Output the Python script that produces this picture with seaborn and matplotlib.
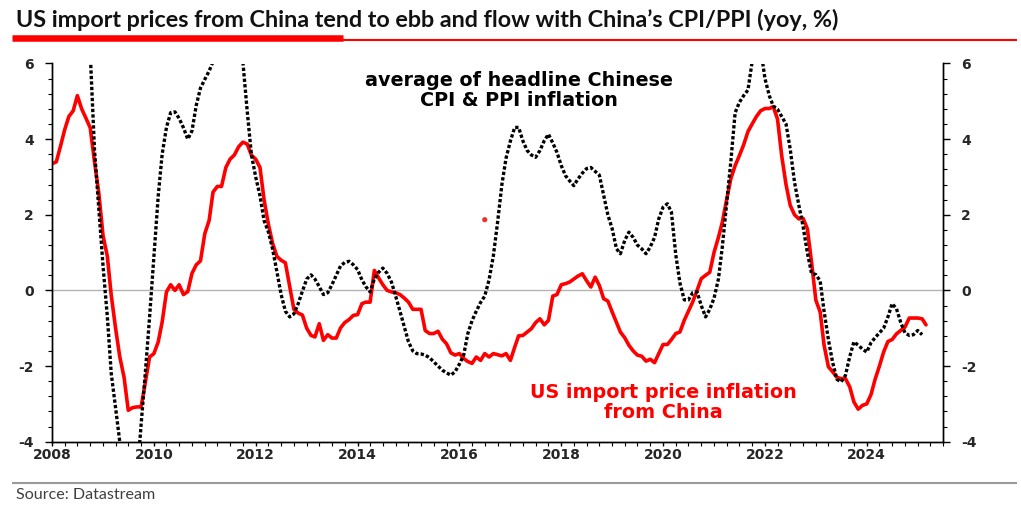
import matplotlib
matplotlib.use('Agg')
import pandas as pd
import matplotlib.pyplot as plt
import matplotlib.dates as mdates
from matplotlib.ticker import MultipleLocator
from matplotlib.lines import Line2D
import seaborn as sns

# ------------------------------------------------------------
# Data (monthly, yoy %)
# ------------------------------------------------------------
START = '2008-01-01'

# US import price inflation from China (red line), Jan 2008 - Mar 2025
us_import_china = [
    3.35, 3.4, 3.8, 4.25, 4.6, 4.75, 5.15, 4.8, 4.55, 4.3, 3.4, 2.6,          # 2008
    1.45, 0.9, -0.13, -1.0, -1.75, -2.3, -3.17, -3.1, -3.08, -3.08, -2.42, -1.76,  # 2009
    -1.67, -1.36, -0.84, -0.04, 0.15, 0.0, 0.15, -0.11, -0.03, 0.45, 0.68, 0.78,   # 2010
    1.5, 1.85, 2.6, 2.75, 2.75, 3.25, 3.47, 3.58, 3.8, 3.92, 3.87, 3.58,          # 2011
    3.47, 3.25, 2.4, 1.75, 1.25, 0.9, 0.8, 0.73, 0.1, -0.5, -0.6, -0.65,          # 2012
    -1.0, -1.19, -1.23, -0.88, -1.32, -1.17, -1.26, -1.26, -0.99, -0.85, -0.77, -0.66,  # 2013
    -0.64, -0.35, -0.31, -0.31, 0.53, 0.33, 0.15, 0.0, -0.04, -0.06, -0.11, -0.2,  # 2014
    -0.31, -0.5, -0.5, -0.5, -1.06, -1.14, -1.14, -1.08, -1.29, -1.41, -1.65, -1.71,  # 2015
    -1.67, -1.8, -1.88, -1.93, -1.76, -1.85, -1.67, -1.76, -1.67, -1.7, -1.73, -1.67,  # 2016
    -1.85, -1.5, -1.2, -1.19, -1.1, -1.01, -0.85, -0.75, -0.91, -0.79, -0.15, -0.11,  # 2017
    0.15, 0.18, 0.22, 0.3, 0.38, 0.44, 0.26, 0.09, 0.35, 0.13, -0.22, -0.28,       # 2018
    -0.57, -0.85, -1.1, -1.25, -1.45, -1.6, -1.71, -1.74, -1.87, -1.82, -1.91, -1.67,  # 2019
    -1.43, -1.43, -1.3, -1.14, -1.1, -0.79, -0.55, -0.3, 0.0, 0.31, 0.4, 0.48,     # 2020
    1.01, 1.4, 1.8, 2.4, 2.95, 3.3, 3.56, 3.85, 4.2, 4.4, 4.6, 4.75,               # 2021
    4.81, 4.81, 4.86, 4.53, 3.56, 2.8, 2.25, 2.0, 1.89, 1.91, 1.63, 0.75,          # 2022
    -0.26, -0.57, -1.45, -2.02, -2.15, -2.3, -2.33, -2.33, -2.55, -2.95, -3.14, -3.04,  # 2023
    -3.0, -2.75, -2.35, -2.0, -1.63, -1.35, -1.3, -1.15, -1.06, -0.97, -0.73, -0.73,  # 2024
    -0.73, -0.75, -0.91,                                                           # 2025
]

# average of headline Chinese CPI & PPI inflation (black dotted), Jan 2008 - Feb 2025
china_cpi_ppi_avg = [
    6.6, 7.6, 8.1, 8.3, 8.0, 8.0, 8.2, 8.3, 7.9, 6.3, 3.7, 2.2,                   # 2008
    0.65, -0.7, -2.2, -3.1, -4.0, -4.8, -5.2, -5.3, -5.0, -3.55, -2.15, -0.7,      # 2009
    0.9, 2.5, 3.6, 4.31, 4.7, 4.72, 4.55, 4.3, 4.0, 4.22, 4.9, 5.35,              # 2010
    5.58, 5.8, 6.05, 6.4, 6.6, 6.8, 6.9, 6.8, 6.6, 6.05, 4.75, 3.6,               # 2011
    3.0, 2.5, 1.85, 1.55, 1.1, 0.5, -0.1, -0.55, -0.7, -0.62, -0.35, -0.02,       # 2012
    0.3, 0.41, 0.3, 0.1, -0.11, -0.06, 0.15, 0.4, 0.65, 0.74, 0.77, 0.68,         # 2013
    0.55, 0.28, 0.1, -0.04, 0.3, 0.48, 0.59, 0.45, 0.22, -0.15, -0.55, -0.95,     # 2014
    -1.36, -1.6, -1.67, -1.68, -1.71, -1.78, -1.89, -2.0, -2.11, -2.18, -2.24, -2.15,  # 2015
    -1.95, -1.71, -1.15, -0.8, -0.55, -0.32, -0.15, 0.28, 0.92, 1.8, 2.8, 3.5,    # 2016
    3.95, 4.31, 4.31, 3.95, 3.7, 3.58, 3.52, 3.7, 3.96, 4.13, 3.9, 3.65,          # 2017
    3.3, 3.03, 2.9, 2.77, 2.95, 3.1, 3.22, 3.25, 3.15, 3.05, 2.51, 2.0,           # 2018
    1.63, 1.1, 0.97, 1.32, 1.54, 1.4, 1.2, 1.1, 0.97, 1.15, 1.4, 1.89,            # 2019
    2.2, 2.29, 2.07, 0.95, 0.2, -0.25, -0.25, -0.06, -0.04, -0.4, -0.7, -0.5,     # 2020
    -0.2, 0.3, 1.15, 2.3, 3.4, 4.7, 4.97, 5.15, 5.3, 6.05, 6.9, 6.4,              # 2021
    5.6, 5.15, 4.88, 4.79, 4.6, 4.4, 3.74, 2.86, 2.25, 1.7, 1.0, 0.45,            # 2022
    0.42, 0.25, -0.55, -1.3, -1.9, -2.35, -2.42, -2.25, -1.75, -1.36, -1.45, -1.55,  # 2023
    -1.63, -1.38, -1.25, -1.12, -1.0, -0.7, -0.35, -0.48, -0.85, -1.12, -1.19, -1.17,  # 2024
    -1.06, -1.17,                                                                  # 2025
]

# lone red point that appears in the original chart
stray_dates = ['2016-07-01']
stray_values = [1.87]

TITLE = 'US import prices from China tend to ebb and flow with China\u2019s CPI/PPI (yoy, %)'
SOURCE = 'Source: Datastream'
LABEL_CHINA = 'average of headline Chinese\nCPI & PPI inflation'
LABEL_US = 'US import price inflation\nfrom China'

RED = '#ff0000'

df_us = pd.DataFrame({
    'date': pd.date_range(START, periods=len(us_import_china), freq='MS'),
    'value': us_import_china,
})
df_cn = pd.DataFrame({
    'date': pd.date_range(START, periods=len(china_cpi_ppi_avg), freq='MS'),
    'value': china_cpi_ppi_avg,
})
df_dot = pd.DataFrame({'date': pd.to_datetime(stray_dates), 'value': stray_values})

sns.set_style('white')
plt.rcParams['font.family'] = ['DejaVu Sans']
plt.rcParams['font.weight'] = 'bold'
plt.rcParams['axes.unicode_minus'] = False

W, H = 1021, 514
fig = plt.figure(figsize=(W / 100, H / 100), dpi=100)
ax = fig.add_axes([52 / W, 1 - 441.7 / H, (943 - 52) / W, (441.7 - 63.5) / H])

ax.axhline(0, color='#b4b4b4', lw=1, zorder=1)
sns.lineplot(data=df_us, x='date', y='value', ax=ax, color=RED, lw=2.6, zorder=3)
sns.lineplot(data=df_cn, x='date', y='value', ax=ax, color='black', lw=2.4,
             linestyle=(0, (1, 0.65)), zorder=4)
sns.scatterplot(data=df_dot, x='date', y='value', ax=ax, color='#e8322e', s=14,
                edgecolor='none', zorder=5)

ax.set_xlim(pd.Timestamp('2008-01-01'), pd.Timestamp('2025-07-01'))
ax.set_ylim(-4, 6)
ax.set_xlabel('')
ax.set_ylabel('')
ax.xaxis.set_major_locator(mdates.YearLocator(2))
ax.xaxis.set_major_formatter(mdates.DateFormatter('%Y'))
ax.xaxis.set_minor_locator(mdates.MonthLocator(bymonth=[1, 4, 7, 10]))
ax.yaxis.set_major_locator(MultipleLocator(2))
ax.yaxis.set_minor_locator(MultipleLocator(0.4))

ax2 = ax.twinx()
ax2.set_ylim(-4, 6)
ax2.yaxis.set_major_locator(MultipleLocator(2))
ax2.yaxis.set_minor_locator(MultipleLocator(0.4))

for a in (ax, ax2):
    a.spines['top'].set_visible(False)
    for s in ('left', 'right', 'bottom'):
        a.spines[s].set_color('black')
        a.spines[s].set_linewidth(1)
    a.tick_params(which='major', length=5, width=1, color='black', labelsize=10,
                  direction='out')
    a.tick_params(which='minor', length=3, width=0.8, color='black', direction='out')
ax.tick_params(axis='y', which='both', left=True, right=False, pad=8)
ax.tick_params(axis='x', which='both', bottom=True, pad=1.5)
ax.tick_params(axis='x', which='major', length=3)
ax2.tick_params(axis='y', which='both', right=True, left=False, pad=8)

ax.text(pd.Timestamp('2017-03-01'), 5.29, LABEL_CHINA, ha='center', va='center',
        fontsize=13.8, fontweight='bold', color='black', linespacing=1.1)
ax.text(pd.Timestamp('2020-01-01'), -2.97, LABEL_US, ha='center', va='center',
        fontsize=13.8, fontweight='bold', color=RED, linespacing=1.1)

# header and footer
fig.text(16 / W, 1 - 20 / H, TITLE, ha='left', va='center', fontsize=16.8,
         fontweight='bold', family=['Lato', 'DejaVu Sans'], color='#111111')
fig.add_artist(Line2D([343 / W, 1017 / W], [1 - 40.3 / H] * 2, color=RED, lw=1.5,
                      solid_capstyle='butt'))
fig.add_artist(Line2D([12 / W, 343 / W], [1 - 38.3 / H] * 2, color=RED, lw=4.7,
                      solid_capstyle='butt'))
fig.add_artist(Line2D([12 / W, 1017 / W], [1 - 483 / H] * 2, color='#9a9a9a', lw=1.5,
                      solid_capstyle='butt'))
fig.text(16 / W, 1 - 495 / H, SOURCE, ha='left', va='center', fontsize=11.6,
         fontweight='normal', family=['Lato', 'DejaVu Sans'], color='#404040')

fig.savefig('out.png', dpi=100)
